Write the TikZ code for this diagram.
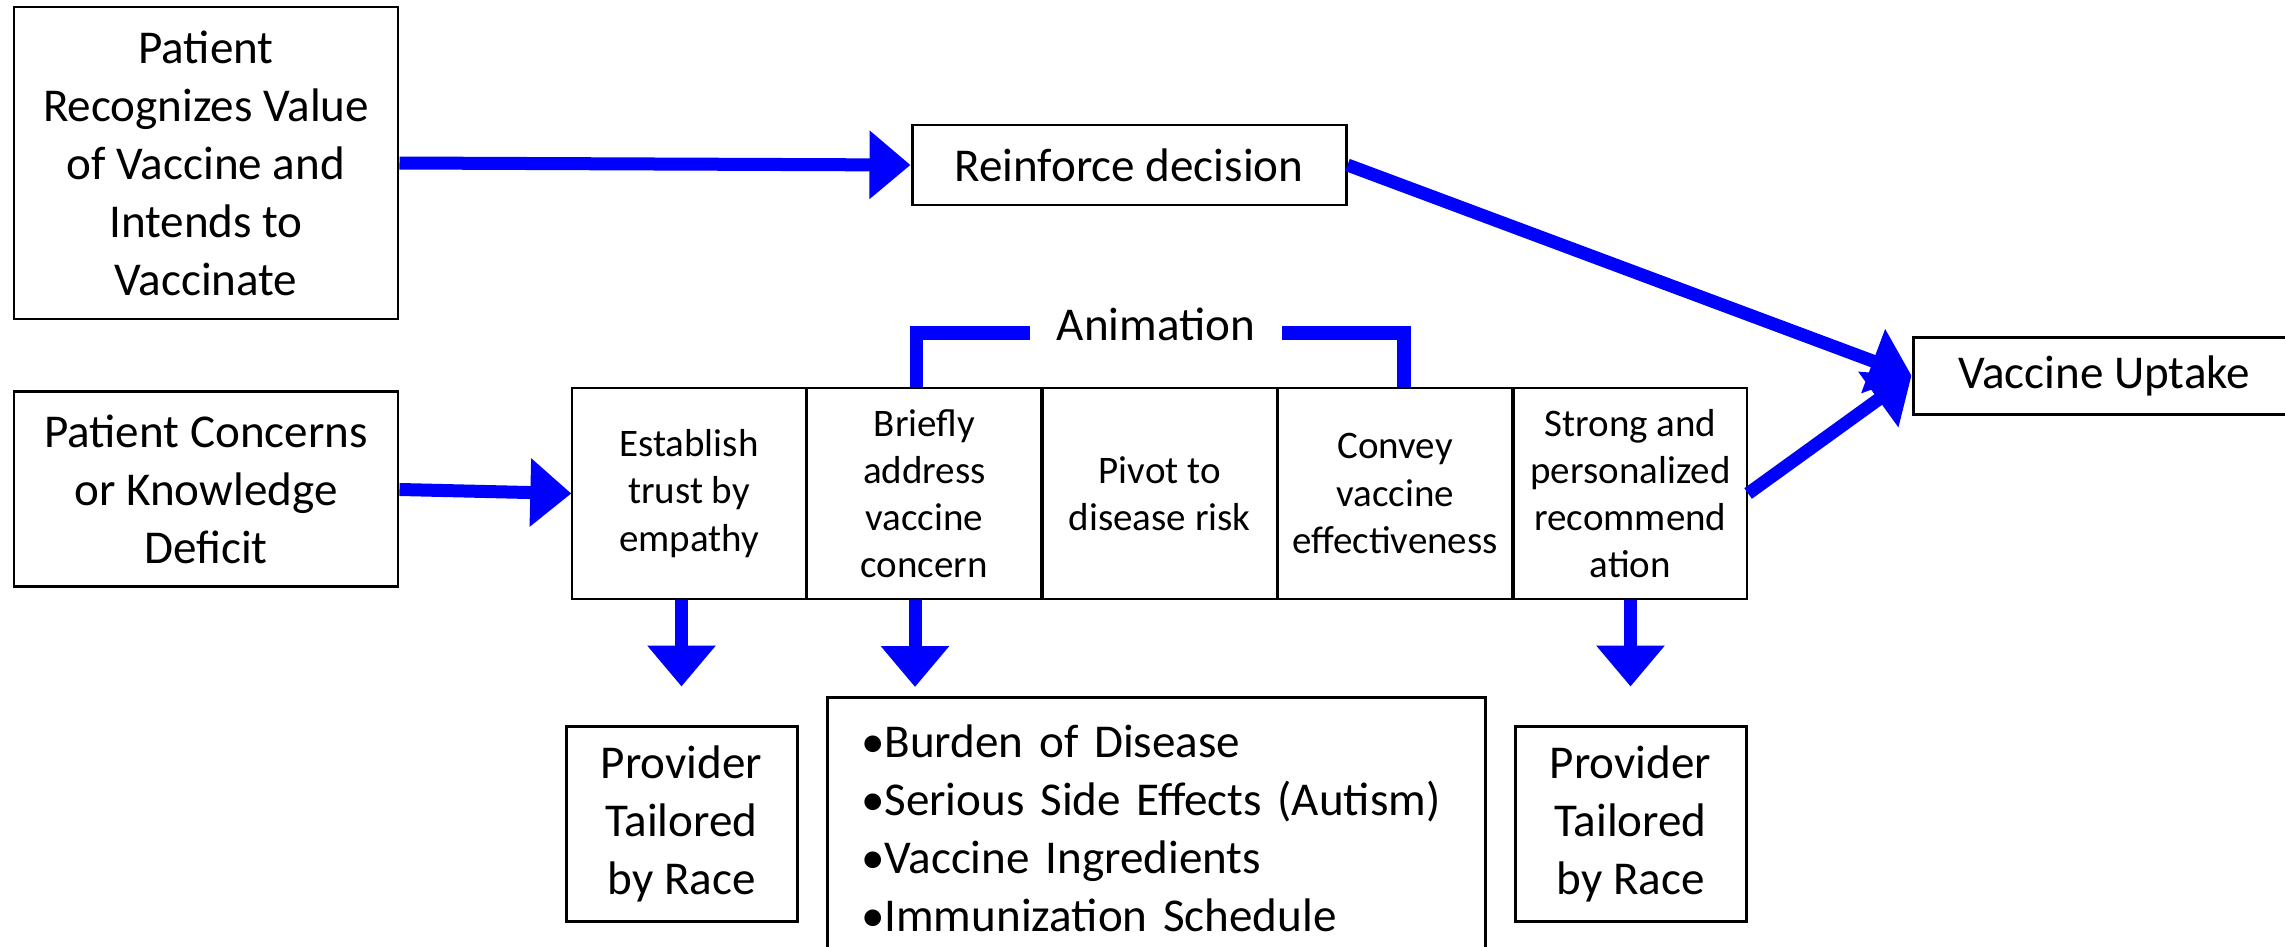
\documentclass[tikz,border=0pt]{standalone}
\usepackage{fontspec}
\setmainfont{Carlito}
\usetikzlibrary{positioning, arrows.meta}
\definecolor{ArrowBlue}{HTML}{0000FF}

\begin{document}
\begin{tikzpicture}[
    x=0.1mm, y=-0.1mm,
    font=\fontsize{13.4}{16.5}\selectfont,
    box/.style={draw=black, line width=0.85pt, align=center, inner sep=0pt},
    cell/.style={draw=black, line width=0.5pt, align=center, inner sep=0pt, minimum width=23.36mm, minimum height=21.1mm, font=\fontsize{11.1}{13.4}\selectfont},
    arrow/.style={-{Triangle[length=4.1mm, width=6.6mm]}, line width=3.7pt, color=ArrowBlue},
    bracketline/.style={line width=3.8pt, color=ArrowBlue}
]
    \useasboundingbox[fill=white] (0,0) rectangle (2285,946);
    \clip (0,0) rectangle (2285,946);

    \node[box, minimum width=38.4mm, minimum height=31.2mm] (intend) at (206,163) {Patient\\Recognizes Value\\of Vaccine and\\Intends to\\Vaccinate};
    \node[box, minimum width=38.4mm, minimum height=19.5mm, below=7mm of intend] (concern) {Patient Concerns\\or Knowledge\\Deficit};
    \node[box, minimum width=43.4mm, minimum height=8mm] (reinforce) at (1129,165) {Reinforce decision};
    \node[box, minimum width=38.2mm, minimum height=7.7mm] (uptake) at (2104,375.5) {Vaccine Uptake};

    \node[cell] (c1) at (689,493.5) {Establish\\trust by\\empathy};
    \node[cell, right=0pt of c1] (c2) {Briefly\\address\\vaccine\\concern};
    \node[cell, right=0pt of c2] (c3) {Pivot to\\disease risk};
    \node[cell, right=0pt of c3] (c4) {Convey\\vaccine\\effectiveness};
    \node[cell, right=0pt of c4] (c5) {Strong and\\personalized\\recommend\\ation};

    \node[anchor=base, inner sep=0pt] (anim) at (1156,340) {Animation};
    \coordinate (brL) at (1030,333);
    \coordinate (brR) at (1282,333);

    \node[box, minimum width=23.1mm, minimum height=19.5mm] (prov1) at (681.5,823.5) {Provider\\Tailored\\by Race};
    \node[box, text width=59mm, inner xsep=3.4mm, minimum height=26.3mm, align=left] (topics) at (1156,828.5) {•Burden of Disease\\•Serious Side Effects (Autism)\\•Vaccine Ingredients\\•Immunization Schedule};
    \node[box, minimum width=23.1mm, minimum height=19.5mm] (prov2) at (1630.5,823.5) {Provider\\Tailored\\by Race};
    \coordinate (probe) at (915,687);

    \draw[arrow] (intend.east) -- (reinforce.west);
    \draw[arrow] (concern.east) -- (c1.west);
    \draw[arrow] (reinforce.east) -- (uptake.west);
    \draw[arrow] (c5.east) -- (uptake.west);
    \draw[bracketline] ([xshift=-0.8mm]c2.north) |- (brL);
    \draw[bracketline] (brR) -| ([xshift=0.9mm]c4.north);
    \draw[arrow, shorten >=3.8mm] (prov1.north |- c1.south) -- (prov1.north);
    \draw[arrow] (c2.south -| probe) -- (probe);
    \draw[arrow, shorten >=3.8mm] (prov2.north |- c5.south) -- (prov2.north);
\end{tikzpicture}
\end{document}
